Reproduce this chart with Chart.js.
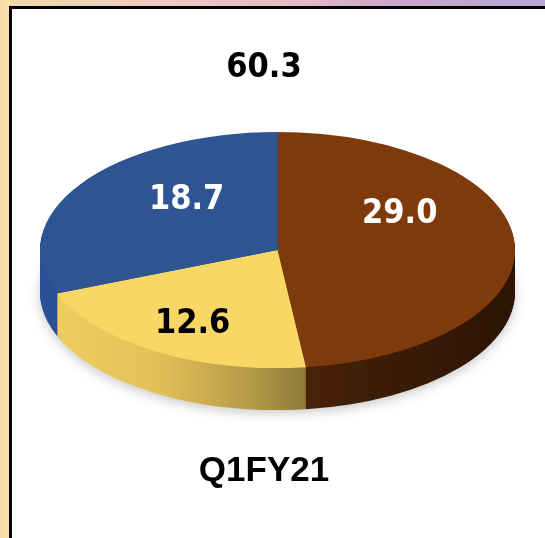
<!DOCTYPE html>
<html>
<head>
<meta charset="utf-8">
<script src="https://cdn.jsdelivr.net/npm/chart.js@4.4.1/dist/chart.umd.min.js"></script>
<style>
  html, body { margin: 0; padding: 0; width: 545px; height: 538px; overflow: hidden; }
  body {
    position: relative;
    background:
      linear-gradient(90deg, #f6dba3 0px, #f8e0ad 10px, rgba(0,0,0,0) 10px),
      linear-gradient(90deg, #f3d9a6 0%, #f0c9c0 30%, #e6b8c6 55%, #c8a5cf 75%, #b3a8d6 100%);
  }
  #panel {
    position: absolute; left: 9px; top: 6px; width: 600px; height: 600px;
    background: #ffffff; border-left: 3px solid #000; border-top: 3px solid #000;
    box-sizing: border-box;
  }
  #wrap { position: absolute; left: 0; top: 0; width: 545px; height: 538px; }
</style>
</head>
<body>
<div id="panel"></div>
<div id="wrap"><canvas id="c" width="545" height="538"></canvas></div>
<script>
// ---- data ----
const categories = ['Brown segment', 'Yellow segment', 'Blue segment'];
const values = [29.0, 12.6, 18.7];
const totalLabel = '60.3';
const periodLabel = 'Q1FY21';

// ---- styles ----
const topColors = ['#7e3a0b', '#f8d765', '#2e5494'];
const labelColors = ['#ffffff', '#000000', '#ffffff'];
const GEO = { cx: 277.5, cy: 250, rx: 237.5, ry: 118, depth: 42, labelFrac: 0.6 };
const labelNudge = [[-20, -32], [-12, 13], [27, -10]];

const pie3d = {
  id: 'pie3d',
  beforeDatasetsDraw(chart) {
    const ctx = chart.ctx;
    const arcs = chart.getDatasetMeta(0).data;
    const a0 = arcs[0];
    const cx = a0.x, cy = a0.y, r = a0.outerRadius;
    const sx = GEO.rx / r, sy = GEO.ry / r;
    const toX = X => cx + (X - GEO.cx) / sx;
    const apply = dy => {
      ctx.translate(GEO.cx - cx * sx, GEO.cy + dy - cy * sy);
      ctx.scale(sx, sy);
    };
    const mkGrad = stops => {
      const g = ctx.createLinearGradient(toX(GEO.cx - GEO.rx), 0, toX(GEO.cx + GEO.rx), 0);
      stops.forEach(s => g.addColorStop(s[0], s[1]));
      return g;
    };
    const sideFills = [
      mkGrad([[0, '#4a2309'], [0.55, '#4a2309'], [0.7, '#3e1d07'], [1, '#2c1304']]),
      mkGrad([[0, '#f2cf60'], [0.25, '#e2c058'], [0.45, '#b39a48'], [0.58, '#857336'], [1, '#6f5f2c']]),
      mkGrad([[0, '#2a5197'], [0.5, '#244884'], [1, '#1f3e72']])
    ];
    for (let d = GEO.depth; d >= 1; d--) {
      ctx.save();
      apply(d);
      if (d === GEO.depth) {
        ctx.shadowColor = 'rgba(0,0,0,0.22)';
        ctx.shadowBlur = 12;
        ctx.shadowOffsetY = 3;
      }
      arcs.forEach((el, i) => {
        const p = Object.create(el);
        p.options = Object.assign({}, el.options, { backgroundColor: sideFills[i], borderWidth: 0 });
        el.draw.call(p, ctx);
      });
      ctx.restore();
    }
    ctx.save();
    apply(0);
  },
  afterDatasetsDraw(chart) {
    const ctx = chart.ctx;
    ctx.restore();
    const arcs = chart.getDatasetMeta(0).data;
    ctx.save();
    ctx.font = "bold 34px 'DejaVu Sans Condensed', 'DejaVu Sans', sans-serif";
    ctx.textAlign = 'center';
    ctx.textBaseline = 'middle';
    arcs.forEach((el, i) => {
      const mid = (el.startAngle + el.endAngle) / 2;
      const x = GEO.cx + Math.cos(mid) * GEO.rx * GEO.labelFrac + labelNudge[i][0];
      const y = GEO.cy + Math.sin(mid) * GEO.ry * GEO.labelFrac + labelNudge[i][1];
      ctx.fillStyle = labelColors[i];
      ctx.fillText(values[i].toFixed(1), x, y);
    });
    ctx.restore();
  }
};

new Chart(document.getElementById('c'), {
  type: 'pie',
  data: {
    labels: categories,
    datasets: [{
      data: values,
      backgroundColor: topColors,
      borderWidth: 0,
      clip: false
    }]
  },
  options: {
    responsive: false,
    animation: false,
    events: [],
    layout: { padding: { left: 0, right: 17, top: 0, bottom: 0 } },
    plugins: {
      legend: { display: false },
      tooltip: { enabled: false },
      title: {
        display: true,
        text: totalLabel,
        color: '#000000',
        font: { family: "'DejaVu Sans Condensed', 'DejaVu Sans', sans-serif", size: 34, weight: 'bold' },
        padding: { top: 48, bottom: 10 }
      },
      subtitle: {
        display: true,
        position: 'bottom',
        text: periodLabel,
        color: '#000000',
        font: { family: "'Liberation Sans', Arial, sans-serif", size: 35, weight: 'bold' },
        padding: { top: 10, bottom: 46 }
      }
    }
  },
  plugins: [pie3d]
});
</script>
</body>
</html>
